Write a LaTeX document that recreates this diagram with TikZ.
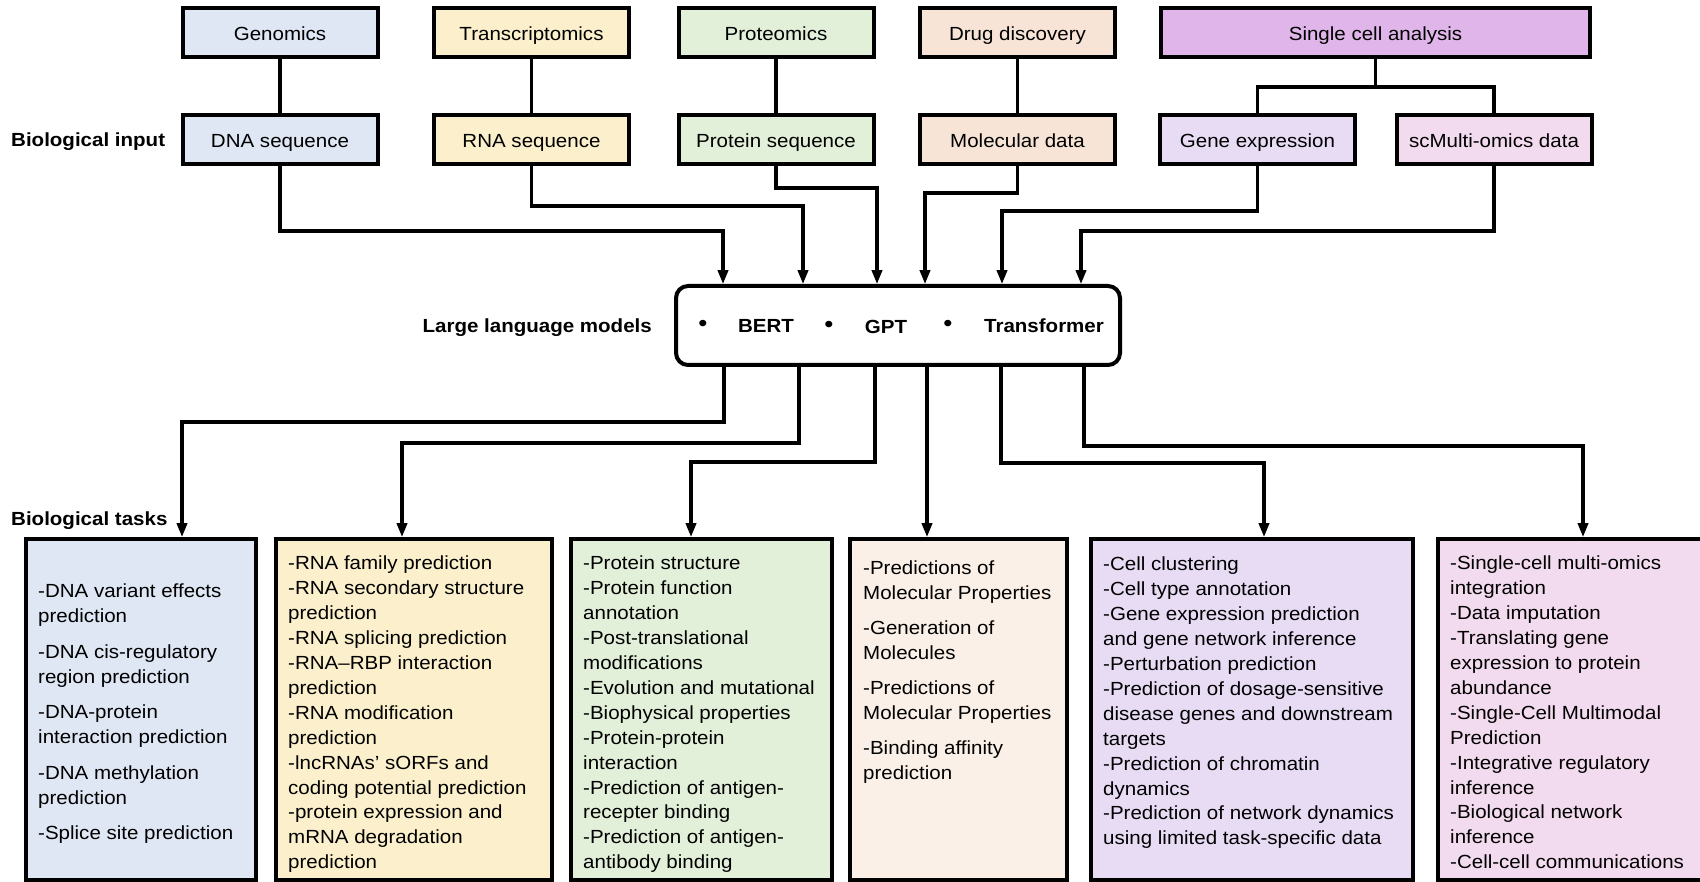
\documentclass[tikz,border=0pt]{standalone}
\usepackage{fontspec}
\setmainfont[FakeStretch=1.08]{Liberation Sans}
\usetikzlibrary{arrows.meta}
\definecolor{cblue}{HTML}{DFE7F4}
\definecolor{cyel}{HTML}{FBF0CB}
\definecolor{cgreen}{HTML}{E2EFD9}
\definecolor{cpeach}{HTML}{F7E4D6}
\definecolor{cpeachL}{HTML}{FAF0E7}
\definecolor{cpurp}{HTML}{E0B6EA}
\definecolor{clav}{HTML}{E8DCF5}
\definecolor{cpink}{HTML}{F3DBEF}
\tikzset{
  inbox/.style={draw=black, line width=4pt, minimum width=195pt, minimum height=49pt,
    inner sep=0pt, outer sep=0pt, text height=16pt, text depth=0pt,
    font=\fontsize{19}{23}\selectfont},
  taskbox/.style={draw=black, line width=4pt, inner sep=0pt, outer sep=0pt, anchor=north west},
  tasktext/.style={anchor=north west, align=left, inner sep=0pt, font=\fontsize{19}{24.9}\selectfont},
  lbl/.style={font=\bfseries\fontsize{19}{23}\selectfont, inner sep=0pt},
  bul/.style={font=\fontsize{24}{24}\selectfont, inner sep=0pt},
  conn/.style={line width=3.4pt},
  arr/.style={line width=3.4pt, -{Triangle[length=14pt,width=10pt]}, shorten >=1.8pt},
}
\begin{document}
\begin{tikzpicture}[x=1pt,y=-1pt]
\useasboundingbox (0,0) rectangle (1700,882);
\clip (0,0) rectangle (1700,882);

% ---- top row: fields
\node[inbox, fill=cblue]  (genomics) at (280,33)    {Genomics};
\node[inbox, fill=cyel]   (trans)    at (531.5,33)  {Transcriptomics};
\node[inbox, fill=cgreen] (prot)     at (776,33)    {Proteomics};
\node[inbox, fill=cpeach] (drug)     at (1017.5,33) {Drug discovery};
\node[inbox, fill=cpurp, minimum width=429pt] (sca) at (1375.5,33) {Single cell analysis};

% ---- second row: biological input
\node[lbl, anchor=base west] (binput) at (11,147) {Biological input};
\node[inbox, fill=cblue]  (dna)     at (280,140)    {DNA sequence};
\node[inbox, fill=cyel]   (rna)     at (531.5,140)  {RNA sequence};
\node[inbox, fill=cgreen] (protseq) at (776,140)    {Protein sequence};
\node[inbox, fill=cpeach] (mol)     at (1017.5,140) {Molecular data};
\node[inbox, fill=clav]   (gene)    at (1257.5,140) {Gene expression};
\node[inbox, fill=cpink]  (scm)     at (1494,140)   {scMulti-omics data};

% ---- LLM box
\node[draw=black, line width=4pt, rounded corners=12pt, minimum width=444pt,
      minimum height=79pt, inner sep=0pt, outer sep=0pt, fill=white] (llm) at (898,325.5) {};
\node[lbl, anchor=base east] (llmlabel) at (652,332.5) {Large language models};
\node[bul] (b1) at (703,325.5) {•};
\node[lbl, anchor=base] (bert) at (766,332.5) {BERT};
\node[bul] (b2) at (829,326.5) {•};
\node[lbl, anchor=base] (gpt) at (886,333.5) {GPT};
\node[bul] (b3) at (948,326) {•};
\node[lbl, anchor=base] (transf) at (1044,332.5) {Transformer};

% ---- field -> input connectors
\draw[conn] (genomics) -- (dna);
\draw[conn] (trans) -- (rna);
\draw[conn] (prot) -- (protseq);
\draw[conn] (drug) -- (mol);
\coordinate (scbar) at (1375.5,87);
\draw[conn] (sca.south) -- (sca.south |- scbar);
\draw[conn] (gene.north) |- (scbar) -| (scm.north);

% ---- input -> LLM
\coordinate (in1) at (723,231);
\coordinate (in2) at (803,206);
\coordinate (in3) at (877,188);
\coordinate (in4) at (925,193);
\coordinate (in5) at (1002,211);
\coordinate (in6) at (1081,231);
\draw[arr] (dna.south) |- (in1) -- (in1 |- llm.north);
\draw[arr] (rna.south) |- (in2) -- (in2 |- llm.north);
\draw[arr] (protseq.south) |- (in3) -- (in3 |- llm.north);
\draw[arr] (mol.south) |- (in4) -- (in4 |- llm.north);
\draw[arr] (gene.south) |- (in5) -- (in5 |- llm.north);
\draw[arr] (scm.south) |- (in6) -- (in6 |- llm.north);

% ---- task boxes
\node[lbl, anchor=base west] (btasks) at (11,525) {Biological tasks};
\node[taskbox, fill=cblue,   minimum width=230pt, minimum height=341pt] (t1) at (25.75,539) {};
\node[taskbox, fill=cyel,    minimum width=276pt, minimum height=341pt] (t2) at (275.5,539) {};
\node[taskbox, fill=cgreen,  minimum width=261pt, minimum height=341pt] (t3) at (570.5,539) {};
\node[taskbox, fill=cpeachL, minimum width=217pt, minimum height=341pt] (t4) at (849.5,539) {};
\node[taskbox, fill=clav,    minimum width=322pt, minimum height=341pt] (t5) at (1090.5,539) {};
\node[taskbox, fill=cpink,   minimum width=280pt, minimum height=341pt] (t6) at (1437.5,539) {};

\node[tasktext] (t1txt) at (38,584) {-DNA variant effects\\prediction\\[10.6pt]-DNA cis-regulatory\\region prediction\\[10.6pt]-DNA-protein\\interaction prediction\\[10.6pt]-DNA methylation\\prediction\\[10.6pt]-Splice site prediction};
\node[tasktext] (t2txt) at (288,556) {-RNA family prediction\\-RNA secondary structure\\prediction\\-RNA splicing prediction\\-RNA–RBP interaction\\prediction\\-RNA modification\\prediction\\-lncRNAs’ sORFs and\\coding potential prediction\\-protein expression and\\mRNA degradation\\prediction};
\node[tasktext] (t3txt) at (583,556) {-Protein structure\\-Protein function\\annotation\\-Post-translational\\modifications\\-Evolution and mutational\\-Biophysical properties\\-Protein-protein\\interaction\\-Prediction of antigen-\\recepter binding\\-Prediction of antigen-\\antibody binding};
\node[tasktext] (t4txt) at (863,561) {-Predictions of\\Molecular Properties\\[10pt]-Generation of\\Molecules\\[10pt]-Predictions of\\Molecular Properties\\[10pt]-Binding affinity\\prediction};
\node[tasktext] (t5txt) at (1103,557) {-Cell clustering\\-Cell type annotation\\-Gene expression prediction\\and gene network inference\\-Perturbation prediction\\-Prediction of dosage-sensitive\\disease genes and downstream\\targets\\-Prediction of chromatin\\dynamics\\-Prediction of network dynamics\\using limited task-specific data};
\node[tasktext] (t6txt) at (1450,556) {-Single-cell multi-omics\\integration\\-Data imputation\\-Translating gene\\expression to protein\\abundance\\-Single-Cell Multimodal\\Prediction\\-Integrative regulatory\\inference\\-Biological network\\inference\\-Cell-cell communications};

% ---- LLM -> tasks
\coordinate (o1) at (724,422);  \coordinate (c1) at (182,422);
\coordinate (o2) at (799,443);  \coordinate (c2) at (402,443);
\coordinate (o3) at (875,462);  \coordinate (c3) at (691,462);
\coordinate (o4) at (927,462);
\coordinate (o5) at (1001,463); \coordinate (c5) at (1264,463);
\coordinate (o6) at (1084,446); \coordinate (c6) at (1583,446);
\draw[arr] (llm.south -| o1) -- (o1) -- (c1) -- (c1 |- t1.north);
\draw[arr] (llm.south -| o2) -- (o2) -- (c2) -- (c2 |- t2.north);
\draw[arr] (llm.south -| o3) -- (o3) -- (c3) -- (c3 |- t3.north);
\draw[arr] (llm.south -| o4) -- (o4 |- t4.north);
\draw[arr] (llm.south -| o5) -- (o5) -- (c5) -- (c5 |- t5.north);
\draw[arr] (llm.south -| o6) -- (o6) -- (c6) -- (c6 |- t6.north);
\end{tikzpicture}
\end{document}
